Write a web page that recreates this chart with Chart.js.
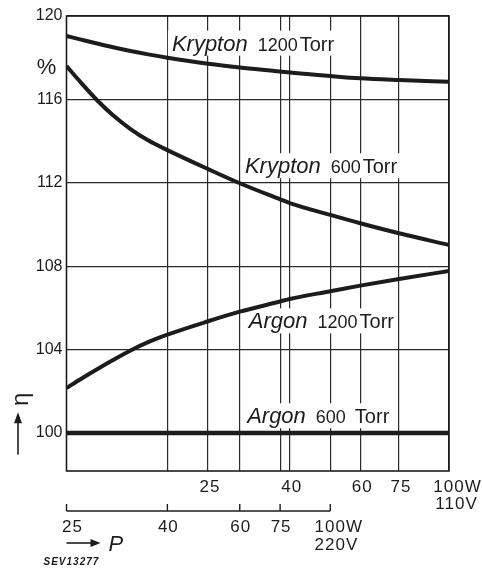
<!DOCTYPE html>
<html><head><meta charset="utf-8">
<script src="https://cdn.jsdelivr.net/npm/chart.js@4.4.0/dist/chart.umd.min.js"></script>
<style>html,body{margin:0;padding:0;background:#fff;}canvas{display:block;}</style>
</head><body>
<canvas id="c" width="482" height="569"></canvas>
<script>
// x values expressed as 110 V-equivalent lamp power (W), log axis
const xEquivW110 = [11.07, 11.97, 13.2, 14.47, 16, 17.7, 19.78, 25, 30, 37.84, 40, 50.5, 60, 75, 100];
const krypton1200 = [119.04, 118.88, 118.68, 118.50, 118.32, 118.16, 118.00, 117.71, 117.53, 117.34, 117.29, 117.12, 117.01, 116.93, 116.85];
const krypton600  = [117.60, 116.85, 115.96, 115.24, 114.58, 114.04, 113.57, 112.66, 111.98, 111.21, 111.03, 110.46, 110.06, 109.58, 109.02];
const argon1200   = [102.16, 102.57, 103.06, 103.50, 103.96, 104.36, 104.72, 105.36, 105.82, 106.31, 106.43, 106.80, 107.07, 107.39, 107.77];
const argon600X   = [11.07, 100];
const argon600    = [100, 100];
const yTicks = [100, 104, 108, 112, 116, 120];
const ticks110Pos = [25, 40, 60, 75, 100];
const ticks110Labels = ['25', '40', '60', '75', '100'];
const ticks220Pos = [11.07, 19.78, 30.0, 37.84, 50.5];
const ticks220Labels = ['25', '40', '60', '75', '100'];
const seriesLabels = [
  {gas: 'Krypton', p: '1200', x: 20.3, y: 118.34, gap: 2},
  {gas: 'Krypton', p: '600',  x: 30.9, y: 112.46, gap: 2},
  {gas: 'Argon',   p: '1200', x: 31.6, y: 105.02, gap: 2},
  {gas: 'Argon',   p: '600',  x: 31.3, y: 100.47, gap: 9}
];

const INK = '#1c1c1c';
const FAM = '"Liberation Sans", Arial, sans-serif';

function labelLayout(ctx, l, xs, ys) {
  const x0 = xs.getPixelForValue(l.x), base = ys.getPixelForValue(l.y);
  ctx.font = 'italic 22px ' + FAM; const w1 = ctx.measureText(l.gas).width;
  ctx.font = '18px ' + FAM; const w2 = ctx.measureText(l.p).width;
  ctx.font = '20px ' + FAM; const w3 = ctx.measureText('Torr').width;
  const xn = x0 + w1 + 10, xt = xn + w2 + l.gap;
  return {x0, base, xn, xt, x1: xt + w3};
}

const deco = {
  id: 'deco',
  beforeDatasetsDraw(chart) {
    const {ctx, scales: {x, y}} = chart;
    ctx.save();
    ctx.fillStyle = '#fff';
    seriesLabels.forEach(l => {
      const m = labelLayout(ctx, l, x, y);
      ctx.fillRect(m.x0 - 4, m.base - 20, m.x1 - m.x0 + 8, 25);
    });
    ctx.restore();
  },
  afterDatasetsDraw(chart) {
    const {ctx, chartArea: a, scales: {x, y}} = chart;
    ctx.save();
    // frame
    ctx.strokeStyle = INK; ctx.lineWidth = 1.6;
    ctx.strokeRect(a.left, a.top, a.right - a.left, a.bottom - a.top);
    ctx.fillStyle = INK;
    // series labels
    ctx.textBaseline = 'alphabetic'; ctx.textAlign = 'left';
    seriesLabels.forEach(l => {
      const m = labelLayout(ctx, l, x, y);
      ctx.font = 'italic 22px ' + FAM; ctx.fillText(l.gas, m.x0, m.base);
      ctx.font = '18px ' + FAM; ctx.fillText(l.p, m.xn, m.base);
      ctx.font = '20px ' + FAM; ctx.fillText('Torr', m.xt, m.base);
    });
    // 110 V axis labels
    ctx.font = '17px ' + FAM;
    ctx.letterSpacing = '1px';
    const b110 = a.bottom + 21;
    ticks110Pos.forEach((v, i) => {
      const px = x.getPixelForValue(v);
      const t = ticks110Labels[i];
      if (i === ticks110Pos.length - 1) {
        const w = ctx.measureText(t).width;
        ctx.textAlign = 'left';
        ctx.fillText(t + 'W', px - w / 2, b110);
        ctx.fillText('110V', px - w / 2 + 2, b110 + 17);
      } else {
        ctx.textAlign = 'center';
        ctx.fillText(t, px + 2, b110);
      }
    });
    // 220 V axis
    const yl = a.bottom + 40;
    const p0 = x.getPixelForValue(ticks220Pos[0]), p1 = x.getPixelForValue(ticks220Pos[ticks220Pos.length - 1]);
    ctx.lineWidth = 1.4;
    ctx.beginPath(); ctx.moveTo(p0, yl); ctx.lineTo(p1, yl); ctx.stroke();
    ticks220Pos.forEach((v, i) => {
      const px = x.getPixelForValue(v);
      ctx.beginPath(); ctx.moveTo(px, yl); ctx.lineTo(px, yl - 7); ctx.stroke();
      const t = ticks220Labels[i];
      const b = yl + 21;
      if (i === ticks220Pos.length - 1) {
        const w = ctx.measureText(t).width;
        ctx.textAlign = 'left';
        ctx.fillText(t + 'W', px - w / 2, b);
        ctx.fillText('220V', px - w / 2, b + 18);
      } else {
        ctx.textAlign = 'center';
        ctx.fillText(t, px + (i === 0 ? 6 : 1), b);
      }
    });
    ctx.letterSpacing = '0px';
    // P arrow
    const ya = yl + 32;
    ctx.lineWidth = 1.6;
    ctx.beginPath(); ctx.moveTo(p0, ya); ctx.lineTo(p0 + 26, ya); ctx.stroke();
    ctx.beginPath(); ctx.moveTo(p0 + 34, ya); ctx.lineTo(p0 + 24, ya - 4); ctx.lineTo(p0 + 24, ya + 4); ctx.closePath(); ctx.fill();
    ctx.font = 'italic 22px ' + FAM; ctx.textAlign = 'left';
    ctx.fillText('P', p0 + 42, ya + 8);
    // SEV number
    ctx.font = 'italic bold 10px ' + FAM; ctx.letterSpacing = '1px';
    ctx.fillText('SEV13277', p0 - 23, ya + 22);
    ctx.letterSpacing = '0px';
    // % sign
    ctx.font = '22px ' + FAM; ctx.textAlign = 'center';
    ctx.fillText('%', a.left - 20, y.getPixelForValue(117.6) + 8);
    // eta arrow
    const ex = 18, ey0 = y.getPixelForValue(98.97), ey1 = y.getPixelForValue(100.9);
    ctx.lineWidth = 1.6;
    ctx.beginPath(); ctx.moveTo(ex, ey0); ctx.lineTo(ex, ey1 + 6); ctx.stroke();
    ctx.beginPath(); ctx.moveTo(ex, ey1 - 2); ctx.lineTo(ex - 4, ey1 + 9); ctx.lineTo(ex + 4, ey1 + 9); ctx.closePath(); ctx.fill();
    ctx.save();
    ctx.translate(ex + 3, ey1 - 15);
    ctx.rotate(-Math.PI / 2);
    ctx.font = '24px ' + FAM; ctx.textAlign = 'center'; ctx.textBaseline = 'middle';
    ctx.fillText('η', 0, 0);
    ctx.restore();
    ctx.restore();
  }
};

const gridX = ticks110Pos.concat(ticks220Pos.slice(1));
const mk = (xs, ys) => xs.map((v, i) => ({x: v, y: ys[i]}));

new Chart(document.getElementById('c'), {
  type: 'line',
  data: {
    datasets: [
      {data: mk(xEquivW110, krypton1200)},
      {data: mk(xEquivW110, krypton600)},
      {data: mk(xEquivW110, argon1200)},
      {data: mk(argon600X, argon600), borderWidth: 4.5}
    ]
  },
  options: {
    responsive: false, animation: false, devicePixelRatio: 1,
    layout: {padding: {left: 0, top: 16, right: 33, bottom: 98}},
    plugins: {legend: {display: false}, tooltip: {enabled: false}},
    elements: {
      point: {radius: 0},
      line: {borderWidth: 4, borderColor: INK, cubicInterpolationMode: 'monotone', fill: false, borderCapStyle: 'butt'}
    },
    scales: {
      x: {
        type: 'logarithmic', min: 11.07, max: 100,
        afterBuildTicks: s => { s.ticks = gridX.map(v => ({value: v})); },
        ticks: {display: false},
        grid: {color: '#2a2a2a', lineWidth: 1.2, drawTicks: false},
        border: {display: false},
        afterFit: s => { s.height = 0; }
      },
      y: {
        min: 98.18, max: 120,
        afterBuildTicks: s => { s.ticks = yTicks.map(v => ({value: v})); },
        ticks: {font: {family: FAM, size: 16}, color: INK, padding: 4},
        grid: {color: '#2a2a2a', lineWidth: 1.2, drawTicks: false},
        border: {display: false},
        afterFit: s => { s.width = 66.5; }
      }
    }
  },
  plugins: [deco]
});
</script>
</body></html>
